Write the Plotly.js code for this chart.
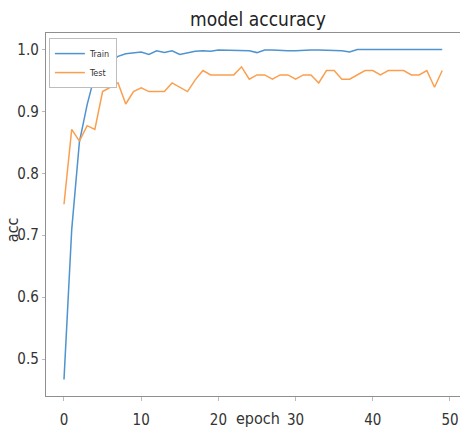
<!DOCTYPE html>
<html>
<head>
<meta charset="utf-8">
<script src="https://cdn.plot.ly/plotly-3.0.1.min.js"></script>
<style>
  html, body { margin: 0; padding: 0; background: #fff; overflow: hidden; }
  #chart { width: 460px; height: 431px; }
</style>
</head>
<body>
<div id="chart"></div>
<script>
// Training history: accuracy per epoch
const epochs = Array.from({ length: 50 }, (_, i) => i);

const trainAcc = [
  0.467, 0.709, 0.851, 0.911, 0.959, 0.972, 0.978, 0.989, 0.993, 0.995,
  0.996, 0.992, 0.998, 0.995, 0.998, 0.992, 0.995, 0.997, 0.998, 0.997,
  0.999, 0.999, 0.999, 0.998, 0.998, 0.995, 0.999, 0.999, 0.998, 0.998,
  0.998, 0.999, 0.999, 0.999, 0.999, 0.998, 0.998, 0.996, 1.000, 1.000,
  1.000, 1.000, 1.000, 1.000, 1.000, 1.000, 1.000, 1.000, 1.000, 1.000
];

const testAcc = [
  0.750, 0.871, 0.852, 0.877, 0.871, 0.932, 0.939, 0.946, 0.912, 0.932,
  0.938, 0.932, 0.932, 0.932, 0.946, 0.939, 0.932, 0.951, 0.966, 0.959,
  0.959, 0.959, 0.959, 0.972, 0.952, 0.959, 0.959, 0.952, 0.959, 0.959,
  0.952, 0.959, 0.959, 0.946, 0.966, 0.966, 0.952, 0.952, 0.959, 0.966,
  0.966, 0.959, 0.966, 0.966, 0.966, 0.959, 0.959, 0.966, 0.939, 0.966
];

const xTicks = [0, 10, 20, 30, 40, 50];
const yTicks = [0.5, 0.6, 0.7, 0.8, 0.9, 1.0];

// 5% padding around the data, like the usual autoscale of a history plot
const all = trainAcc.concat(testAcc);
const yMin = Math.min(...all), yMax = Math.max(...all);
const pad = 0.05 * (yMax - yMin);

const FONT = '"DejaVu Sans Condensed", "Liberation Sans Narrow", "DejaVu Sans", sans-serif';

const traces = [
  { x: epochs, y: trainAcc, name: 'Train', type: 'scatter', mode: 'lines',
    line: { color: '#4f93cf', width: 1.5 } },
  { x: epochs, y: testAcc, name: 'Test', type: 'scatter', mode: 'lines',
    line: { color: '#fb9f4f', width: 1.5 } }
];

const layout = {
  width: 460, height: 431,
  margin: { l: 46, r: 0, t: 33, b: 35 },
  paper_bgcolor: '#ffffff', plot_bgcolor: '#ffffff',
  font: { family: FONT, color: '#333333' },
  title: {
    text: 'model accuracy',
    font: { family: FONT, size: 19, color: '#222222' },
    x: 258 / 460, xref: 'container', xanchor: 'center',
    y: 1 - 19 / 431, yref: 'container', yanchor: 'middle'
  },
  xaxis: {
    range: [-2.33, 51.3],
    tickvals: xTicks,
    ticks: 'outside', ticklen: 4, tickcolor: '#bbbbbb',
    ticklabelstandoff: 6, ticklabeloverflow: 'allow',
    showline: true, linecolor: '#8f8f8f', linewidth: 1.2, mirror: true,
    showgrid: false, zeroline: false,
    tickfont: { family: FONT, size: 15, color: '#333333' }
  },
  yaxis: {
    range: [yMin - pad, yMax + pad],
    tickvals: yTicks, tickformat: '.1f',
    ticks: 'outside', ticklen: 3, tickcolor: '#bbbbbb',
    showline: true, linecolor: '#8f8f8f', linewidth: 1.2,
    showgrid: false, zeroline: false,
    tickfont: { family: FONT, size: 15, color: '#333333' }
  },
  showlegend: true,
  legend: {
    x: 0.007, y: 0.986, xanchor: 'left', yanchor: 'top',
    bgcolor: '#ffffff', bordercolor: '#bdbdbd', borderwidth: 1,
    font: { family: FONT, size: 9, color: '#333333' },
    tracegroupgap: 0, itemwidth: 30
  },
  annotations: [
    { text: 'epoch', xref: 'paper', yref: 'paper', x: 0.512, y: -0.062,
      xanchor: 'center', yanchor: 'middle', showarrow: false,
      font: { family: FONT, size: 16, color: '#333333' } },
    { text: 'acc', xref: 'paper', yref: 'paper', x: -0.082, y: 0.457,
      xanchor: 'center', yanchor: 'middle', textangle: -90, showarrow: false,
      font: { family: FONT, size: 16, color: '#333333' } }
  ]
};

Plotly.newPlot('chart', traces, layout, { displayModeBar: false, staticPlot: true });
</script>
</body>
</html>
